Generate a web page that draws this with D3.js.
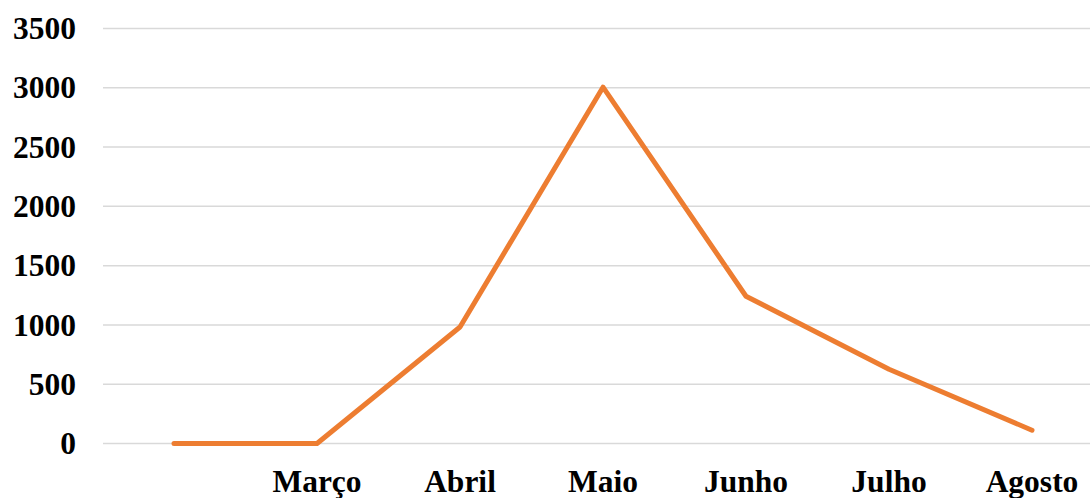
<!DOCTYPE html>
<html><head><meta charset="utf-8">
<script src="https://cdn.jsdelivr.net/npm/d3@7"></script>
<style>html,body{margin:0;padding:0;background:#fff;overflow:hidden}</style>
</head><body><svg id="c" width="1090" height="498"></svg>
<script>
const categories = ["", "Março", "Abril", "Maio", "Junho", "Julho", "Agosto"];
const values = [0, 0, 982, 3005, 1242, 626, 112];
const yTicks = [0, 500, 1000, 1500, 2000, 2500, 3000, 3500];

const svg = d3.select("#c");
const x = d3.scaleBand().domain(categories.map((d,i)=>i)).range([102.5, 1103.5]);
const y = d3.scaleLinear().domain([0, 3500]).range([443.5, 28.5]);
const font = "'Liberation Serif','Times New Roman',serif";

const g = svg.append("g");
g.selectAll("line.grid").data(yTicks).join("line")
  .attr("x1", 103).attr("x2", 1104)
  .attr("y1", d => y(d)).attr("y2", d => y(d))
  .attr("stroke", "#d9d9d9").attr("stroke-width", 1.5);

const yAxis = d3.axisLeft(y).tickValues(yTicks).tickFormat(d3.format("d")).tickSize(0).tickPadding(0);
const ya = svg.append("g").attr("transform", "translate(76,0)").call(yAxis);
ya.select(".domain").remove();
ya.selectAll("text").attr("font-family", font).attr("font-weight", "bold")
  .attr("font-size", 31.5).attr("fill", "#000").attr("dy", "0.32em");

const xAxis = d3.axisBottom(x).tickFormat(i => categories[i]).tickSize(0).tickPadding(0);
const xa = svg.append("g").attr("transform", "translate(0,492)").call(xAxis);
xa.select(".domain").remove();
xa.selectAll("text").attr("font-family", font).attr("font-weight", "bold")
  .attr("font-size", 31.5).attr("fill", "#000").attr("dy", "0");

const line = d3.line().x((d,i) => x(i) + x.bandwidth()/2).y(d => y(d));
svg.append("path").datum(values).attr("d", line)
  .attr("fill", "none").attr("stroke", "#ed7d31").attr("stroke-width", 5)
  .attr("stroke-linejoin", "round").attr("stroke-linecap", "round");
</script></body></html>
